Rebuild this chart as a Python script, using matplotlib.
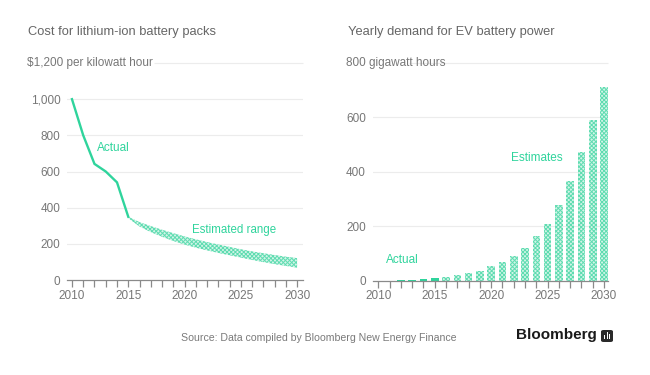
import matplotlib
matplotlib.use("Agg")
import matplotlib.pyplot as plt
from matplotlib.patches import FancyBboxPatch, Rectangle

# ---- data ----
cost_years = [2010, 2011, 2012, 2013, 2014, 2015]
cost_actual = [1000, 800, 642, 600, 540, 350]
est_years = list(range(2015, 2031))
est_upper = [350, 320, 298, 278, 259, 241, 225, 210, 196, 183, 170, 158, 148, 138, 129, 121]
est_lower = [342, 296, 265, 239, 216, 196, 179, 164, 150, 137, 124, 111, 99, 88, 78, 68]

dem_actual_years = [2010, 2011, 2012, 2013, 2014, 2015]
dem_actual = [0, 0, 1, 3, 6, 10]
dem_est_years = list(range(2016, 2031))
dem_est = [13, 21, 29, 37, 54, 70, 91, 119, 164, 210, 278, 366, 474, 590, 710]

left_title = "Cost for lithium-ion battery packs"
right_title = "Yearly demand for EV battery power"
left_unit = "$1,200 per kilowatt hour"
right_unit = "800 gigawatt hours"
left_yticks = [0, 200, 400, 600, 800, 1000]
left_yticklabels = ["0", "200", "400", "600", "800", "1,000"]
right_yticks = [0, 200, 400, 600]
xticks_major = [2010, 2015, 2020, 2025, 2030]
source = "Source: Data compiled by Bloomberg New Energy Finance"

GREEN = "#2fd49c"
HATCH = "#5fdcb1"
LIGHT = "#d3f5e8"
GREY_TXT = "#666666"
TICK_TXT = "#777777"
GRID = "#ececec"

plt.rcParams["font.family"] = ["Liberation Sans", "DejaVu Sans"]
plt.rcParams["hatch.linewidth"] = 0.7
plt.rcParams["hatch.color"] = HATCH

fig = plt.figure(figsize=(6.5, 3.75), dpi=100)
fig.patch.set_facecolor("white")

axL = fig.add_axes([0.1038, 0.2533, 0.3628, 0.5787])
axR = fig.add_axes([0.5734, 0.2515, 0.3620, 0.5808])


def style(ax, xlim, ylim, yticks, ylabels):
    ax.set_xlim(*xlim)
    ax.set_ylim(*ylim)
    for s in ["top", "right", "left"]:
        ax.spines[s].set_visible(False)
    ax.spines["bottom"].set_color("#8a8a8a")
    ax.spines["bottom"].set_linewidth(0.9)
    ax.set_xticks(list(range(2010, 2031)))
    ax.set_xticklabels([str(y) if y in xticks_major else "" for y in range(2010, 2031)])
    ax.tick_params(axis="x", length=5, width=0.9, color="#8a8a8a",
                   labelsize=8.5, labelcolor=TICK_TXT, pad=2)
    ax.set_yticks(yticks)
    ax.set_yticklabels(ylabels)
    ax.tick_params(axis="y", length=0, labelsize=8.5, labelcolor=TICK_TXT, pad=5)
    for y in yticks[1:]:
        ax.axhline(y, color=GRID, lw=0.8, zorder=0)


# ---- left chart ----
style(axL, (2009.6, 2030.55), (0, 1200), left_yticks, left_yticklabels)
axL.hlines(1200, 2017.3, 2030.55, color=GRID, lw=0.8, zorder=0, clip_on=False)
axL.fill_between(est_years, est_lower, est_upper, facecolor=LIGHT,
                 edgecolor=HATCH, hatch="xxxxxxxx", lw=0, zorder=2)
axL.plot(cost_years, cost_actual, color=GREEN, lw=1.7, zorder=3,
         solid_joinstyle="miter")
axL.text(2012.2, 729, "Actual", color=GREEN, fontsize=8.5, va="center", ha="left")
axL.text(2020.7, 277, "Estimated range", color=GREEN, fontsize=8.3, va="center", ha="left")

# ---- right chart ----
style(axR, (2009.5, 2030.35), (0, 800), right_yticks, [str(v) for v in right_yticks])
axR.hlines(800, 2012.7, 2030.35, color=GRID, lw=0.8, zorder=0, clip_on=False)
axR.bar(dem_actual_years, dem_actual, width=0.68, color=GREEN, lw=0, zorder=2)
axR.bar(dem_est_years, dem_est, width=0.68, facecolor=LIGHT, edgecolor=HATCH,
        hatch="xxxxxxxx", lw=0, zorder=2)
axR.text(2010.68, 76, "Actual", color=GREEN, fontsize=8.5, va="center", ha="left")
axR.text(2021.76, 452, "Estimates", color=GREEN, fontsize=8.5, va="center", ha="left")

# ---- titles and units ----
fig.text(28 / 650, 1 - 32 / 375, left_title, fontsize=9.3, color=GREY_TXT, va="center", ha="left")
fig.text(348 / 650, 1 - 32 / 375, right_title, fontsize=9.3, color=GREY_TXT, va="center", ha="left")
fig.text(27 / 650, 1 - 63 / 375, left_unit, fontsize=8.5, color=TICK_TXT, va="center", ha="left")
fig.text(346 / 650, 1 - 63 / 375, right_unit, fontsize=8.5, color=TICK_TXT, va="center", ha="left")

# ---- footer ----
fig.text(181 / 650, 1 - 338 / 375, source, fontsize=7.6, color="#7a7a7a", va="center", ha="left")
fig.text(516 / 650, 1 - 335 / 375, "Bloomberg", fontsize=11, fontweight="bold",
         color="#1a1a1a", va="center", ha="left")
ic = FancyBboxPatch((601 / 650, 1 - 342 / 375), 12 / 650, 12 / 375,
                    boxstyle="round,pad=0,rounding_size=0.004", transform=fig.transFigure,
                    facecolor="#2a2a2a", edgecolor="none")
fig.patches.append(ic)
for i, h in enumerate([4, 7, 5]):
    fig.patches.append(Rectangle(((604 + i * 2.5) / 650, 1 - 339 / 375), 1.3 / 650, h / 375,
                                 transform=fig.transFigure, facecolor="white", edgecolor="none"))

fig.savefig("out.png", dpi=100, facecolor="white")
